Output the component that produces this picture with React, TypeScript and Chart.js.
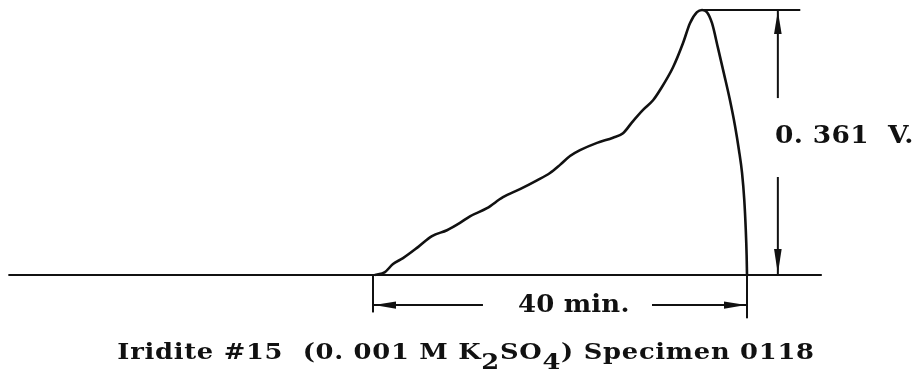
import React, { useEffect, useRef } from "react";
import { Chart, registerables } from "chart.js";

Chart.register(...registerables);

// Potential trace: time since onset (min) and potential rise (V)
const TIME_MIN = [
  0.2, 1.28, 2.14, 3.21, 4.81, 6.31, 7.91, 9.3, 10.37, 12.19, 13.9, 15.72,
  17.54, 18.93, 20.0, 21.07, 22.14, 23.96, 25.67, 26.74, 27.7, 28.88, 29.95,
  30.7, 32.09, 33.16, 33.9, 34.65, 35.19, 35.72, 36.26, 36.9, 37.54, 38.18,
  38.72, 39.14, 39.47, 39.71, 39.87, 39.96, 40.0,
];
const VOLTS = [
  0.0, 0.004, 0.015, 0.023, 0.038, 0.053, 0.061, 0.071, 0.08, 0.091, 0.106,
  0.117, 0.129, 0.139, 0.15, 0.162, 0.17, 0.18, 0.187, 0.193, 0.208, 0.225,
  0.238, 0.252, 0.283, 0.316, 0.343, 0.358, 0.361, 0.358, 0.343, 0.309, 0.274,
  0.238, 0.203, 0.17, 0.139, 0.102, 0.061, 0.027, 0.0,
];

// Recorder baseline before and after the transient
const BASELINE_TIME = [-39.0, 48.0];
const BASELINE_VOLTS = [0, 0];

// Dimension values
const PEAK_TIME = 35.19;
const PEAK_VOLTS = 0.361;
const DURATION_MIN = 40;

// Labels
const DURATION_LABEL = "40 min.";
const PEAK_LABEL = "0. 361  V.";
const CAPTION: { text: string; sub?: boolean }[] = [
  { text: "Iridite #15  (0. 001 M K" },
  { text: "2", sub: true },
  { text: "SO" },
  { text: "4", sub: true },
  { text: ") Specimen 0118" },
];

const INK = "#111111";
const FONT_FAMILY = '"DejaVu Serif", "Liberation Serif", serif';

function arrowHead(
  ctx: CanvasRenderingContext2D,
  tipX: number,
  tipY: number,
  dirX: number,
  dirY: number,
  len: number,
  half: number
) {
  const bx = tipX - dirX * len;
  const by = tipY - dirY * len;
  const nx = -dirY;
  const ny = dirX;
  ctx.beginPath();
  ctx.moveTo(tipX, tipY);
  ctx.lineTo(bx + nx * half, by + ny * half);
  ctx.lineTo(bx - nx * half, by - ny * half);
  ctx.closePath();
  ctx.fill();
}

// Draws text widened horizontally, left edge at x
function wideText(
  ctx: CanvasRenderingContext2D,
  text: string,
  x: number,
  y: number,
  stretch: number
) {
  ctx.save();
  ctx.translate(x, y);
  ctx.scale(stretch, 1);
  ctx.fillText(text, 0, 0);
  ctx.restore();
  return ctx.measureText(text).width * stretch;
}

const dimensionPlugin = {
  id: "dimensions",
  beforeDraw(chart: any) {
    const { ctx, width, height } = chart;
    ctx.save();
    ctx.fillStyle = "#ffffff";
    ctx.fillRect(0, 0, width, height);
    ctx.restore();
  },
  afterDraw(chart: any) {
    const { ctx } = chart;
    const xs = chart.scales.x;
    const ys = chart.scales.y;
    const X = (t: number) => xs.getPixelForValue(t);
    const Y = (v: number) => ys.getPixelForValue(v);

    ctx.save();
    ctx.strokeStyle = INK;
    ctx.fillStyle = INK;
    ctx.lineWidth = 2;
    ctx.lineCap = "butt";

    const line = (x1: number, y1: number, x2: number, y2: number) => {
      ctx.beginPath();
      ctx.moveTo(x1, y1);
      ctx.lineTo(x2, y2);
      ctx.stroke();
    };

    // Peak extension line and vertical height dimension
    const dimT = 43.3;
    line(X(PEAK_TIME), Y(PEAK_VOLTS), X(45.7), Y(PEAK_VOLTS));
    line(X(dimT), Y(PEAK_VOLTS), X(dimT), Y(0.241));
    line(X(dimT), Y(0.1335), X(dimT), Y(0));
    arrowHead(ctx, X(dimT), Y(PEAK_VOLTS) + 1, 0, -1, 23, 3.8);
    arrowHead(ctx, X(dimT), Y(0) - 1, 0, 1, 25, 3.8);

    ctx.textAlign = "left";
    ctx.textBaseline = "alphabetic";
    ctx.font = `bold 24px ${FONT_FAMILY}`;
    (ctx as any).letterSpacing = "0.3px";
    wideText(ctx, PEAK_LABEL, X(43.0), Y(0.18), 1.1);

    // Duration dimension below baseline
    const dimV = -0.041;
    line(X(0), Y(0), X(0), Y(-0.051));
    line(X(DURATION_MIN), Y(0), X(DURATION_MIN), Y(-0.059));
    line(X(0), Y(dimV), X(11.76), Y(dimV));
    line(X(29.84), Y(dimV), X(DURATION_MIN), Y(dimV));
    arrowHead(ctx, X(0) + 1, Y(dimV), -1, 0, 22, 3.6);
    arrowHead(ctx, X(DURATION_MIN) - 1, Y(dimV), 1, 0, 22, 3.6);

    (ctx as any).letterSpacing = "0.2px";
    wideText(ctx, DURATION_LABEL, X(15.5), Y(-0.0504), 1.08);

    // Caption with subscripts
    ctx.font = `bold 23px ${FONT_FAMILY}`;
    (ctx as any).letterSpacing = "0.65px";
    const stretch = 1.12;
    const total = CAPTION.reduce((w, s) => w + ctx.measureText(s.text).width * stretch, 0);
    let cx = X(9.95) - total / 2;
    const baseY = Y(-0.1144);
    for (const seg of CAPTION) {
      cx += wideText(ctx, seg.text, cx, seg.sub ? baseY + 10 : baseY, stretch);
    }
    ctx.restore();
  },
};

export default function App() {
  const canvasRef = useRef<HTMLCanvasElement | null>(null);

  useEffect(() => {
    const canvas = canvasRef.current;
    if (!canvas) return;
    const trace = TIME_MIN.map((t, i) => ({ x: t, y: VOLTS[i] }));
    const baseline = BASELINE_TIME.map((t, i) => ({ x: t, y: BASELINE_VOLTS[i] }));

    const chart = new Chart(canvas, {
      type: "scatter",
      data: {
        datasets: [
          {
            data: baseline,
            showLine: true,
            borderColor: INK,
            borderWidth: 2.2,
            pointRadius: 0,
          },
          {
            data: trace,
            showLine: true,
            borderColor: INK,
            borderWidth: 2.6,
            pointRadius: 0,
            cubicInterpolationMode: "monotone",
          },
        ],
      },
      options: {
        animation: false,
        responsive: false,
        layout: { padding: 0 },
        plugins: {
          legend: { display: false },
          tooltip: { enabled: false },
          title: { display: false },
        },
        scales: {
          x: { type: "linear", display: false, min: -39.893, max: 57.968 },
          y: { type: "linear", display: false, min: -0.1444, max: 0.3746 },
        },
      },
      plugins: [dimensionPlugin],
    });
    return () => chart.destroy();
  }, []);

  return (
    <div style={{ position: "fixed", left: 0, top: 0, width: 915, height: 381, background: "#fff" }}>
      <canvas ref={canvasRef} width={915} height={381} />
    </div>
  );
}
